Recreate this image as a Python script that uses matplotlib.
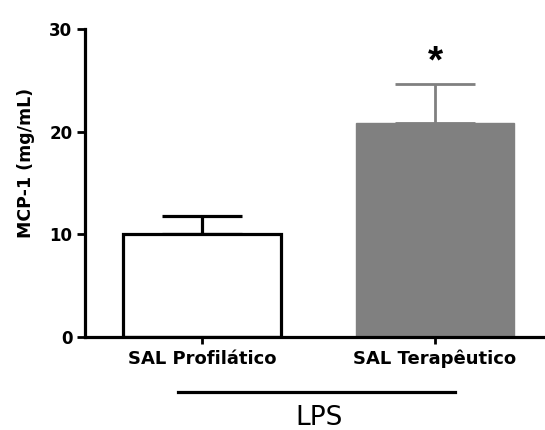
import matplotlib
matplotlib.use("Agg")
import matplotlib.pyplot as plt
import numpy as np

categories = ["SAL Profilático", "SAL Terapêutico"]
means = [10.0, 20.8]
errors = [1.75, 3.85]
y_ticks = [0, 10, 20, 30]
group_label = "LPS"
star_value = 26.7

plt.rcParams['font.family'] = ['DejaVu Sans']

fig = plt.figure(figsize=(5.45, 4.3), dpi=100)
W, H = 545, 430
ax = fig.add_axes([85 / W, 1 - 337 / H, 460 / W, 308 / H])

x = np.arange(len(categories))
width = 0.674
ax.bar(x[0], means[0], width, color="white", edgecolor="black", linewidth=2.3, zorder=2)
ax.bar(x[1], means[1], width, color="#808080", edgecolor="#808080", linewidth=1, zorder=2)

ax.errorbar(x[0], means[0], yerr=[[0], [errors[0]]], fmt="none", ecolor="black",
            elinewidth=2.3, capsize=29, capthick=2.3, zorder=1)
ax.errorbar(x[1], means[1], yerr=[[0], [errors[1]]], fmt="none", ecolor="#808080",
            elinewidth=2.0, capsize=29, capthick=2.0, zorder=1)

ax.text(x[1], star_value, "*", ha="center", va="center", fontsize=28,
        fontweight="bold", family=["Liberation Sans", "DejaVu Sans"])

ax.set_xlim(-0.502, 1.472)
ax.set_ylim(0, 30)
ax.set_yticks(y_ticks)
ax.set_yticklabels([str(v) for v in y_ticks], fontsize=12, fontweight="bold")
ax.set_xticks(x)
ax.set_xticklabels(categories, fontsize=13, fontweight="bold")

for side in ["top", "right"]:
    ax.spines[side].set_visible(False)
for side in ["left", "bottom"]:
    ax.spines[side].set_linewidth(2.3)
ax.spines["bottom"].set_zorder(3)
ax.tick_params(axis="y", length=6, width=2.0, pad=3)
ax.tick_params(axis="x", length=5, width=2.0, pad=4)

ax.set_ylabel("MCP-1 (mg/mL)", fontsize=12.5, fontweight="bold")
ax.yaxis.set_label_coords(-0.108, 0.565)

ax.plot([-0.103, 1.086], [-0.179, -0.179], color="black", linewidth=2.3,
        transform=ax.get_xaxis_transform(), clip_on=False)
ax.text(0.504, -0.262, group_label, ha="center", va="center", fontsize=19,
        transform=ax.get_xaxis_transform())

fig.savefig("out.png", dpi=100)
